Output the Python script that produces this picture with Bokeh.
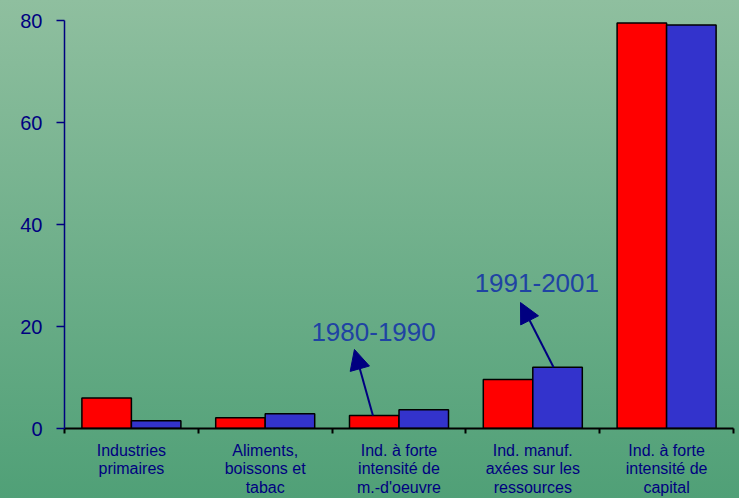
import numpy as np
from bokeh.plotting import figure
from bokeh.models import (Range1d, FixedTicker, Arrow, NormalHead,
                          ColumnDataSource, GlobalInlineStyleSheet)
from bokeh.core.properties import value
from bokeh.embed import file_html
from bokeh.resources import INLINE

categories = ["Industries\nprimaires",
              "Aliments,\nboissons et\ntabac",
              "Ind. à forte\nintensité de\nm.-d'oeuvre",
              "Ind. manuf.\naxées sur les\nressources",
              "Ind. à forte\nintensité de\ncapital"]
s1980_1990 = [6.0, 2.1, 2.55, 9.6, 79.5]
s1991_2001 = [1.5, 2.9, 3.7, 12.0, 79.1]
y_ticks = [0, 20, 40, 60, 80]
label_a = "1980-1990"
label_b = "1991-2001"

n = len(categories)
centers = np.arange(n) + 0.5
boundaries = list(np.arange(n + 1).astype(float))
bw = 0.37

NAVY = "#000080"
FONT = "Liberation Sans"

p = figure(width=739, height=498, output_backend="svg", toolbar_location=None,
           x_range=Range1d(0, n), y_range=Range1d(0, 80),
           min_border_left=64, min_border_right=6, min_border_top=20,
           min_border_bottom=70)
p.background_fill_alpha = 0
p.border_fill_alpha = 0
p.outline_line_alpha = 0
p.xgrid.visible = False
p.ygrid.visible = False
p.stylesheets = [GlobalInlineStyleSheet(css=
    "html{height:100%;background:linear-gradient(180deg,#8fbf9f 0%,#50a077 100%) no-repeat;}"
    "body{background:transparent;}")]

src = ColumnDataSource(dict(xr=centers - bw / 2, xb=centers + bw / 2,
                            a=s1980_1990, b=s1991_2001))
p.vbar(x="xr", top="a", width=bw, bottom=0, source=src,
       fill_color="#FF0000", line_color="#000000", line_width=1.5)
p.vbar(x="xb", top="b", width=bw, bottom=0, source=src,
       fill_color="#3333CC", line_color="#000000", line_width=1.5)

# y axis
ya = p.yaxis[0]
ya.ticker = FixedTicker(ticks=y_ticks)
ya.axis_line_color = NAVY
ya.axis_line_width = 1.5
ya.major_tick_line_color = NAVY
ya.major_tick_line_width = 1.5
ya.major_tick_out = 8
ya.major_tick_in = 0
ya.minor_tick_line_alpha = 0
ya.major_label_text_color = NAVY
ya.major_label_text_font = FONT
ya.major_label_text_font_size = "20px"
ya.major_label_standoff = 14

# x axis: labels at category centres, ticks (as minor ticks) at boundaries
xa = p.xaxis[0]
xa.ticker = FixedTicker(ticks=list(centers), minor_ticks=boundaries)
xa.major_label_overrides = {float(c): t for c, t in zip(centers, categories)}
xa.axis_line_color = "#000000"
xa.axis_line_width = 2
xa.major_tick_line_alpha = 0
xa.major_tick_out = 0
xa.major_tick_in = 0
xa.minor_tick_line_color = "#000000"
xa.minor_tick_line_width = 2
xa.minor_tick_out = 5
xa.minor_tick_in = 0
xa.major_label_standoff = 8
xa.major_label_text_color = NAVY
xa.major_label_text_font = FONT
xa.major_label_text_font_size = "16px"
xa.major_label_text_line_height = 1.1

# annotations
p.add_layout(Arrow(end=NormalHead(size=20, fill_color=NAVY, line_color=NAVY),
                   x_start=centers[2] - bw / 2 - 0.01, y_start=s1980_1990[2],
                   x_end=2.167, y_end=15.5, line_color=NAVY, line_width=2))
p.add_layout(Arrow(end=NormalHead(size=20, fill_color=NAVY, line_color=NAVY),
                   x_start=centers[3] + bw / 2 - 0.03, y_start=s1991_2001[3],
                   x_end=3.408, y_end=24.7, line_color=NAVY, line_width=2))
p.text(x=[2.31, 3.53], y=[19.0, 28.6], text=[label_a, label_b],
       text_font=value(FONT), text_font_size="26px", text_color="#1f43a3",
       text_align="center", text_baseline="middle")

open("out.html", "w").write(file_html(p, INLINE))
